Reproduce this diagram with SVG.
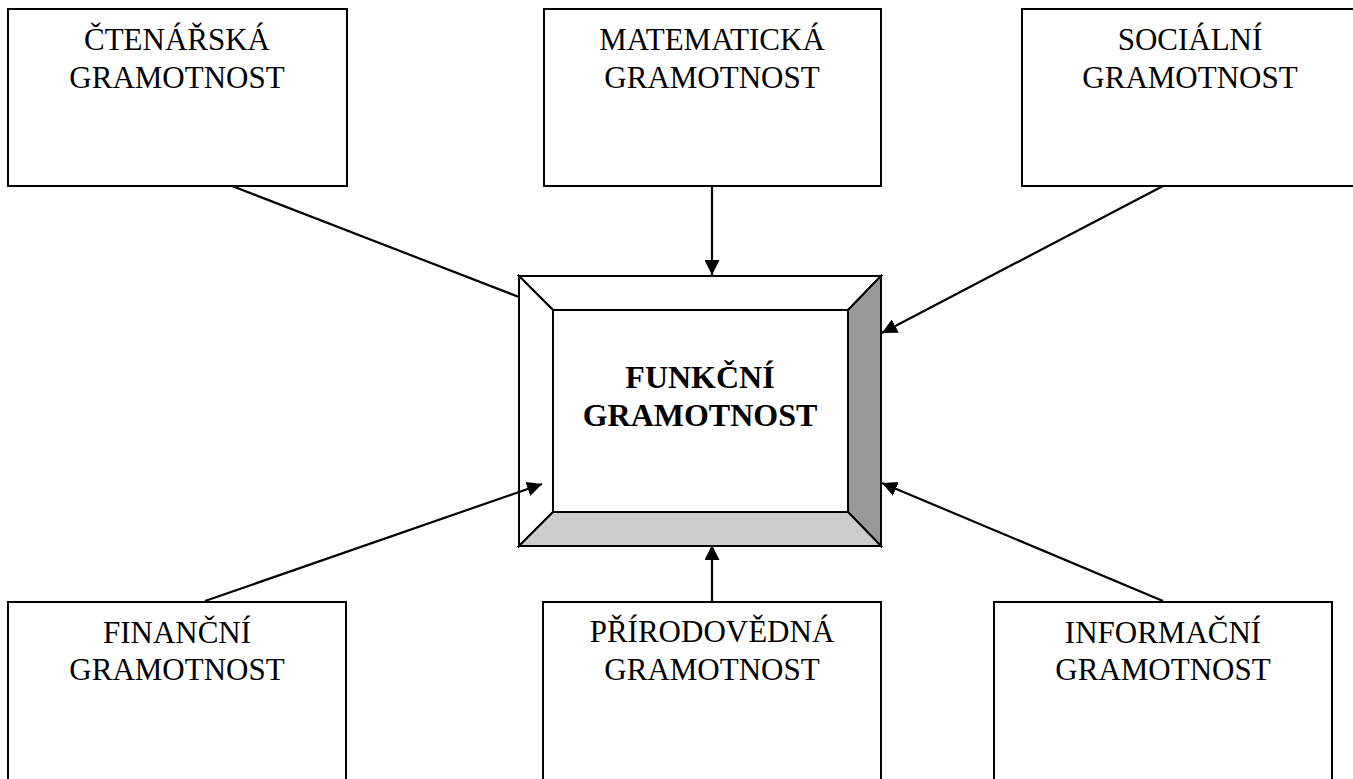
<svg xmlns="http://www.w3.org/2000/svg" width="1353" height="779" viewBox="0 0 1353 779">
<style>
.box{fill:#fff;stroke:#000;stroke-width:2}
.t{font-family:"Liberation Serif","Times New Roman",serif;font-size:31px;fill:#000;text-anchor:middle}
.b{font-weight:bold;font-size:32px}
.c{stroke:#000;stroke-width:2.2;fill:none}
.bv{stroke:#000;stroke-width:2;stroke-linejoin:miter}
</style>
<defs>
<marker id="ah" viewBox="0 0 15 15" refX="15" refY="7.5" markerWidth="15" markerHeight="15" markerUnits="userSpaceOnUse" orient="auto">
<path d="M0,0 L15,7.5 L0,15 Z" fill="#000"/>
</marker>
</defs>
<g id="node-ctenarska">
<rect class="box" x="8" y="9" width="339" height="177"/>
<text class="t" x="177" y="50">ČTENÁŘSKÁ</text>
<text class="t" x="177" y="88">GRAMOTNOST</text>
</g>
<g id="node-matematicka">
<rect class="box" x="544" y="9" width="337" height="177"/>
<text class="t" x="712" y="50">MATEMATICKÁ</text>
<text class="t" x="712" y="88">GRAMOTNOST</text>
</g>
<g id="node-socialni">
<rect class="box" x="1022" y="9" width="336" height="177"/>
<text class="t" x="1190" y="50">SOCIÁLNÍ</text>
<text class="t" x="1190" y="88">GRAMOTNOST</text>
</g>
<g id="node-financni">
<rect class="box" x="8" y="602" width="338" height="190"/>
<text class="t" x="177" y="643">FINANČNÍ</text>
<text class="t" x="177" y="680">GRAMOTNOST</text>
</g>
<g id="node-prirodovedna">
<rect class="box" x="543" y="602" width="338" height="190"/>
<text class="t" x="712" y="642">PŘÍRODOVĚDNÁ</text>
<text class="t" x="712" y="680">GRAMOTNOST</text>
</g>
<g id="node-informacni">
<rect class="box" x="994" y="602" width="338" height="190"/>
<text class="t" x="1163" y="643">INFORMAČNÍ</text>
<text class="t" x="1163" y="680">GRAMOTNOST</text>
</g>
<g id="node-funkcni">
<polygon class="bv" fill="#fff" points="519,276 881,276 848,310 553,310"/>
<polygon class="bv" fill="#fff" points="519,276 553,310 553,512 519,546"/>
<polygon class="bv" fill="#999999" points="881,276 881,546 848,512 848,310"/>
<polygon class="bv" fill="#cccccc" points="519,546 553,512 848,512 881,546"/>
<rect class="bv" fill="#fff" x="553" y="310" width="295" height="202"/>
<text class="t b" x="700" y="388">FUNKČNÍ</text>
<text class="t b" x="700" y="426">GRAMOTNOST</text>
</g>
<g id="connectors">
<line class="c" x1="232" y1="186" x2="519" y2="297"/>
<line class="c" x1="712" y1="186" x2="712" y2="275" marker-end="url(#ah)"/>
<line class="c" x1="1163" y1="186" x2="882" y2="333" marker-end="url(#ah)"/>
<line class="c" x1="205" y1="601" x2="542" y2="484" marker-end="url(#ah)"/>
<line class="c" x1="712" y1="601" x2="712" y2="545" marker-end="url(#ah)"/>
<line class="c" x1="1163" y1="601" x2="882" y2="483" marker-end="url(#ah)"/>
</g>
</svg>
